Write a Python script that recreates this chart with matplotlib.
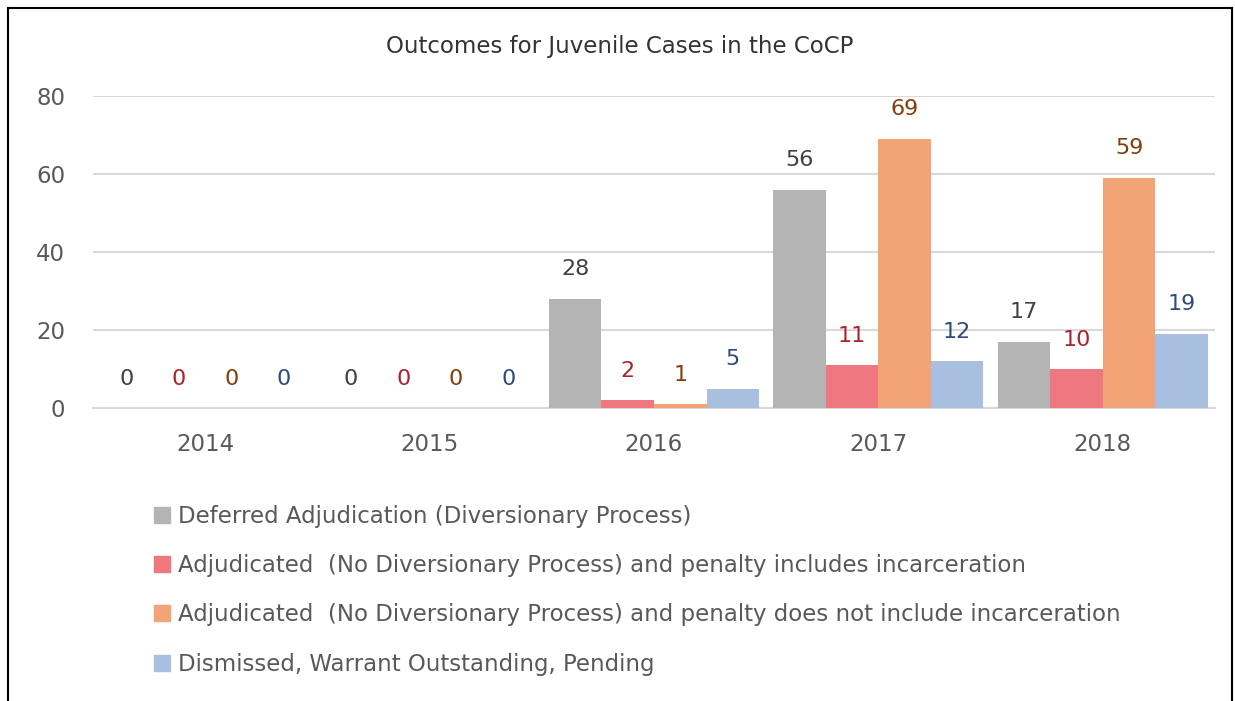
import numpy as np
import matplotlib.pyplot as plt
from matplotlib.patches import Rectangle
from matplotlib.lines import Line2D

years = ['2014', '2015', '2016', '2017', '2018']
series_names = [
    'Deferred Adjudication (Diversionary Process)',
    'Adjudicated  (No Diversionary Process) and penalty includes incarceration',
    'Adjudicated  (No Diversionary Process) and penalty does not include incarceration',
    'Dismissed, Warrant Outstanding, Pending',
]
deferred = [0, 0, 28, 56, 17]
adj_incarc = [0, 0, 2, 11, 10]
adj_no_incarc = [0, 0, 1, 69, 59]
dismissed = [0, 0, 5, 12, 19]

values = [deferred, adj_incarc, adj_no_incarc, dismissed]
bar_colors = ['#B4B4B4', '#EE7780', '#F2A476', '#A9BFE0']
label_colors = ['#404040', '#A8232D', '#843C0C', '#2E4B7A']

fig = plt.figure(figsize=(12.35, 7.01), dpi=100)
ax = fig.add_axes([93 / 1235, 1 - 408 / 701, 1122 / 1235, 312 / 701])

x = np.arange(len(years))
w = 0.234
for i, (vals, c, lc, name) in enumerate(zip(values, bar_colors, label_colors, series_names)):
    pos = x + (i - 1.5) * w
    ax.bar(pos, vals, width=w, color=c, label=name, zorder=3)
    for p, v in zip(pos, vals):
        ax.annotate(str(v), (p, v), xytext=(0, 14), textcoords='offset points',
                    ha='center', va='bottom', fontsize=16, color=lc)

ax.set_xlim(-0.5, len(years) - 0.5)
ax.set_ylim(0, 80)
ax.set_yticks([0, 20, 40, 60, 80])
ax.set_xticks(x)
ax.set_xticklabels(years)
ax.tick_params(axis='both', length=0, labelsize=16.5, colors='#595959')
ax.tick_params(axis='y', pad=20)
ax.tick_params(axis='x', pad=18)
ax.grid(axis='y', color='#D9D9D9', linewidth=1.5, zorder=0)
for s in ['top', 'right', 'left']:
    ax.spines[s].set_visible(False)
ax.spines['bottom'].set_color('#D9D9D9')
ax.spines['bottom'].set_linewidth(1.5)

fig.text(620 / 1235, 1 - 46 / 701, 'Outcomes for Juvenile Cases in the CoCP',
         ha='center', va='center', fontsize=16.5, color='#333333')

handles = [Rectangle((0, 0), 1, 1, color=c) for c in bar_colors]
fig.legend(handles, series_names, loc='upper left',
           bbox_to_anchor=(133 / 1235, 1 - 484 / 701), frameon=False,
           fontsize=16.5, labelcolor='#595959', handlelength=0.7, handleheight=0.7,
           handletextpad=0.35, labelspacing=1.15)

# outer border
fig.add_artist(Line2D([8 / 1235, 8 / 1235], [0, 1 - 8 / 701], transform=fig.transFigure,
                      color='black', linewidth=1.5))
fig.add_artist(Line2D([8 / 1235, 1232 / 1235], [1 - 8 / 701, 1 - 8 / 701], transform=fig.transFigure,
                      color='black', linewidth=1.5))
fig.add_artist(Line2D([1232 / 1235, 1232 / 1235], [0, 1 - 8 / 701], transform=fig.transFigure,
                      color='black', linewidth=1.5))

fig.savefig('out.png', dpi=100)
